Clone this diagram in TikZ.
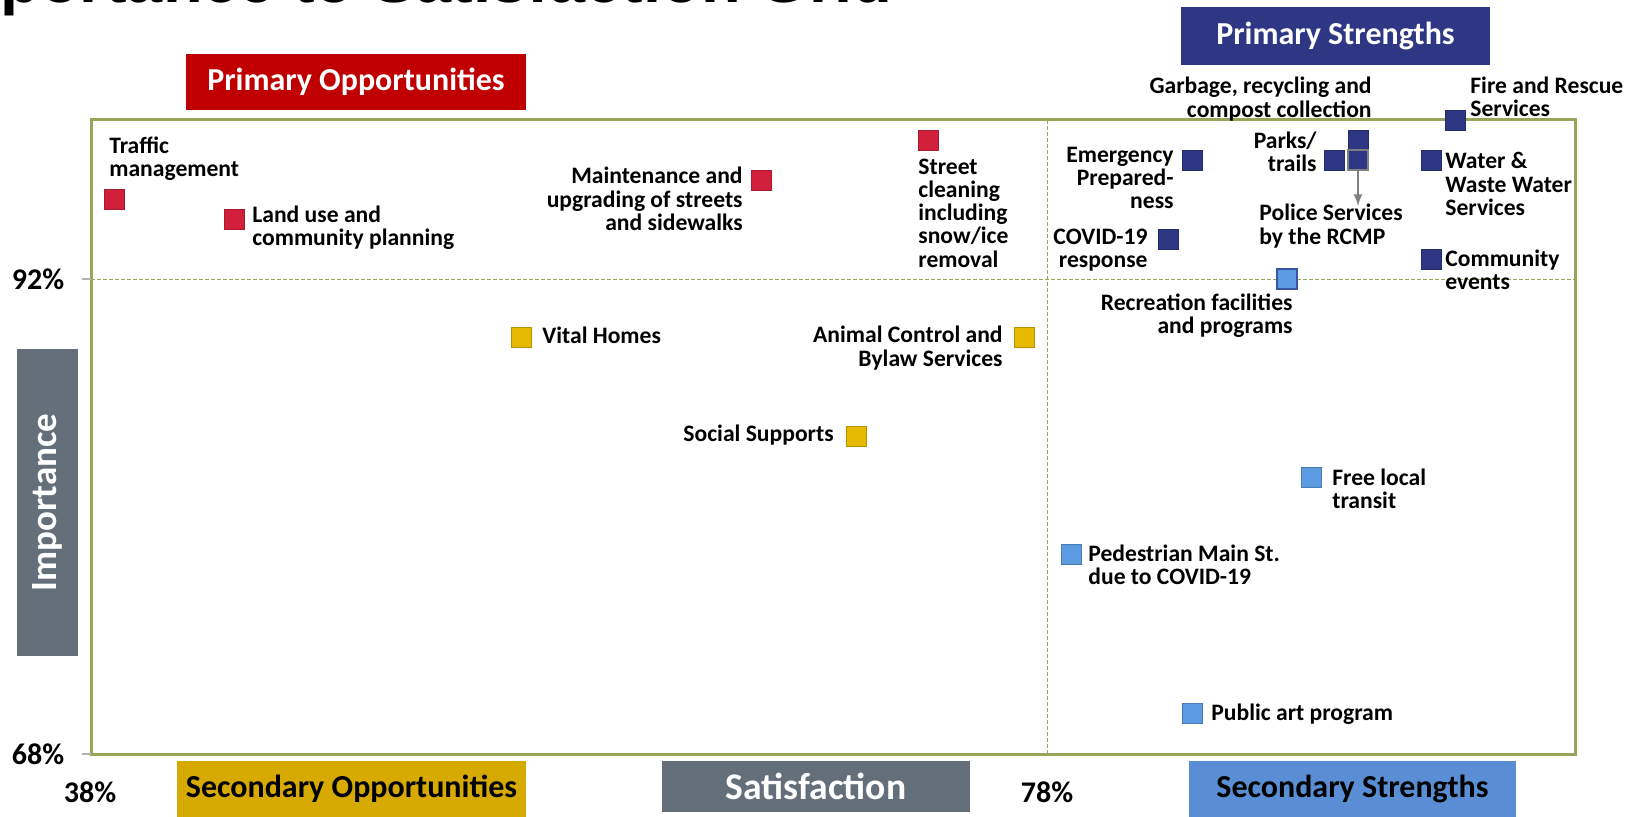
\documentclass[tikz,border=0pt]{standalone}
\usepackage{fontspec}
\setmainfont{Carlito}
\newfontfamily\titlefont{Liberation Sans}
\usetikzlibrary{positioning}
\definecolor{oppred}{HTML}{C00000}
\definecolor{ptred}{HTML}{D2203C}
\definecolor{navy}{HTML}{2E3784}
\definecolor{gold}{HTML}{D6AA00}
\definecolor{ptgold}{HTML}{E6B800}
\definecolor{skyblue}{HTML}{5A8ED4}
\definecolor{ptblue}{HTML}{5B9BE2}
\definecolor{slate}{HTML}{646F79}
\definecolor{olive}{HTML}{99A55A}
\tikzset{
  pt/.style={minimum size=10pt,inner sep=0pt,draw=#1!80!black,line width=0.3pt,fill=#1},
  lbl/.style={font=\fontsize{11.8}{11.6}\selectfont\bfseries,inner sep=0pt},
  hdr/.style={fill=#1,font=\fontsize{16}{18}\selectfont\bfseries,inner sep=0pt},
  pct/.style={font=\fontsize{15}{17}\selectfont\bfseries,inner sep=0pt}
}
\begin{document}
\begin{tikzpicture}[x=0.5pt,y=-0.5pt]
\useasboundingbox (0,0) rectangle (1628,817);

\node (T) at (893,3) [anchor=base east,inner sep=0pt,font=\titlefont\bfseries\fontsize{32.5}{36}\selectfont] {Importance to Satisfaction Grid};

\draw [olive,line width=1.5pt] (91,120) rectangle (1575,754);
\draw [olive,thin,dash pattern=on 2pt off 1pt] (91,279) -- (1575,279);
\draw [olive,thin,dash pattern=on 2pt off 1pt] (1047,120) -- (1047,754);
\draw [gray!60,line width=1pt] (82,279) -- (91,279);
\draw [gray!60,line width=1pt] (82,754) -- (91,754);

\node (PO) at (356,82) [hdr=oppred,text=white,minimum width=170pt,minimum height=28pt] {Primary Opportunities};
\node (PS) at (1335.5,36) [hdr=navy,text=white,minimum width=154.5pt,minimum height=29pt] {Primary Strengths};
\node (SO) at (351.5,789) [hdr=gold,minimum width=174.5pt,minimum height=28pt] {Secondary Opportunities};
\node (SS) at (1352.5,789) [hdr=skyblue,minimum width=163.5pt,minimum height=28pt] {Secondary Strengths};
\node (SA) at (816,786.5) [hdr=slate,text=white,font=\fontsize{18.8}{20}\selectfont\bfseries,minimum width=154pt,minimum height=25.5pt] {Satisfaction};
\node (IM) at (47.5,502.5) [hdr=slate,text=white,rotate=90,font=\fontsize{18.5}{20}\selectfont\bfseries,minimum width=153.5pt,minimum height=30.5pt] {Importance};

\node (P92) at (38,279) [pct] {92\%};
\node (P68) at (38,754) [pct] {68\%};
\node (P38) at (90,792) [pct] {38\%};
\node (P78) at (1047,792) [pct] {78\%};

\node (R1) at (114,199) [pt=ptred] {};
\node (R2) at (234,219) [pt=ptred] {};
\node (R3) at (761,180) [pt=ptred] {};
\node (R4) at (928,140) [pt=ptred] {};
\node (Y1) at (521,337) [pt=ptgold] {};
\node (Y2) at (1024,337) [pt=ptgold] {};
\node (Y3) at (856,436) [pt=ptgold] {};
\node (N1) at (1455,120) [pt=navy] {};
\node (N2) at (1358,140) [pt=navy] {};
\node (N3) at (1334,160) [pt=navy] {};
\node (N4) at (1192,160) [pt=navy] {};
\node (N5) at (1358,160) [pt=navy,draw=gray,line width=1pt] {};
\node (N6) at (1168,239) [pt=navy] {};
\node (N7) at (1431,160) [pt=navy] {};
\node (N8) at (1431,259) [pt=navy] {};
\node (B1) at (1287,279) [pt=ptblue,draw=navy!70!ptblue,line width=1pt] {};
\node (B2) at (1311,477) [pt=ptblue] {};
\node (B3) at (1071,554) [pt=ptblue] {};
\node (B4) at (1192,713) [pt=ptblue] {};

\coordinate (N5a) at (1358,206);
\draw [-latex,gray,line width=1pt] (N5.south) -- (N5a);

\node (TR1) at (109,159) [lbl,anchor=west,align=left] {Traffic\\management};
\node (TR2) at (252,228) [lbl,anchor=west,align=left] {Land use and\\community planning};
\node (TR3) at (743,199) [lbl,anchor=east,align=right] {Maintenance and\\upgrading of streets\\and sidewalks};
\node (TR4) at (918,213) [lbl,anchor=west,align=left] {Street\\cleaning\\including\\snow/ice\\removal};
\node (TY1) at (542,335) [lbl,anchor=west] {Vital Homes};
\node (TY2) at (1003,348) [lbl,anchor=east,align=right] {Animal Control and\\Bylaw Services};
\node (TY3) at (834,435) [lbl,anchor=east] {Social Supports};
\node (TN1) at (1470,97) [lbl,anchor=west,align=left] {Fire and Rescue\\Services};
\node (TN2) at (1372,99) [lbl,anchor=east,align=right] {Garbage, recycling and\\compost collection};
\node (TN3) at (1317,152) [lbl,anchor=east,align=right] {Parks/\\trails};
\node (TN4) at (1174,178) [lbl,anchor=east,align=right] {Emergency\\Prepared-\\ness};
\node (TN5) at (1259,226) [lbl,anchor=west,align=left] {Police Services\\by the RCMP};
\node (TN6) at (1148,250) [lbl,anchor=east,align=right] {COVID-19\\response};
\node (TN7) at (1445,184) [lbl,anchor=west,align=left] {Water \&\\Waste Water\\Services};
\node (TN8) at (1445,270) [lbl,anchor=west,align=left] {Community\\events};
\node (TB1) at (1293,316) [lbl,anchor=east,align=right] {Recreation facilities\\and programs};
\node (TB2) at (1332,489) [lbl,anchor=west,align=left] {Free local\\transit};
\node (TB3) at (1088,565) [lbl,anchor=west,align=left] {Pedestrian Main St.\\due to COVID-19};
\node (TB4) at (1211,714) [lbl,anchor=west] {Public art program};

\end{tikzpicture}
\end{document}
